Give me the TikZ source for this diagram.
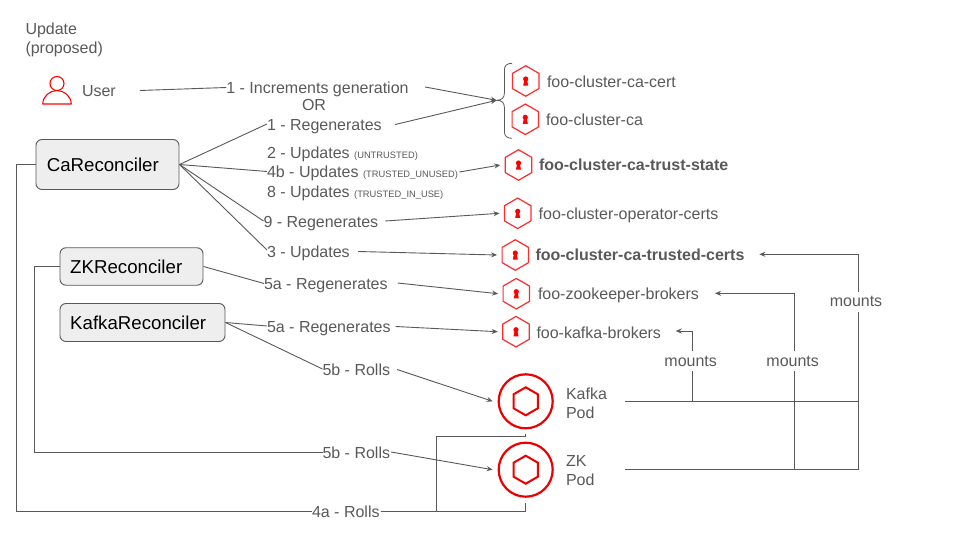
\documentclass[tikz,border=0pt]{standalone}
\usepackage{fontspec}
\setmainfont{Liberation Sans}
\usetikzlibrary{shapes.geometric,arrows.meta}
\definecolor{ink}{HTML}{595959}
\definecolor{boxfill}{HTML}{EEEEEE}
\definecolor{hexred}{HTML}{FF2A2A}
\definecolor{podred}{HTML}{EE0000}
\newcommand{\smalltag}[1]{{\fontsize{9.33pt}{11pt}\selectfont #1}}
\tikzset{
  lbl/.style={anchor=west,inner sep=0pt,outer sep=0pt,text=ink,font=\fontsize{16pt}{19pt}\selectfont,text height=11.5pt,text depth=3.5pt},
  two/.style={anchor=west,inner sep=0pt,outer sep=0pt,text=ink,font=\fontsize{16pt}{19pt}\selectfont,align=left},
  sname/.style={lbl},
  bname/.style={lbl,font=\fontsize{16pt}{19pt}\selectfont\bfseries},
  recon/.style={draw=ink,fill=boxfill,rounded corners=6pt,line width=0.9pt,anchor=west,inner ysep=0pt,inner xsep=10.8pt,align=left,text=black,font=\fontsize{18.67pt}{22pt}\selectfont,outer sep=0.5pt},
  secret/.style={draw=hexred,line width=1.2pt,regular polygon,regular polygon sides=6,shape border rotate=30,minimum size=30.5pt,inner sep=0pt,outer sep=5pt},
  pod/.style={draw=podred,line width=2.2pt,circle,minimum size=54pt,inner sep=0pt,outer sep=6pt},
  podhex/.style={draw=podred,line width=2pt,regular polygon,regular polygon sides=6,shape border rotate=30,minimum size=28pt,inner sep=0pt},
  conn/.style={draw=ink,line width=0.9pt},
  arr/.style={conn,-{Stealth[length=6pt,width=5pt]}},
  mnt/.style={lbl,anchor=center,minimum height=20pt,text height=,text depth=},
}
\begin{document}
\begin{tikzpicture}[x=1pt,y=-1pt]
\useasboundingbox (0,0) rectangle (960,540);
% titles
\node[two] (title) at (25.5,39.5) {Update\\(proposed)};
% user icon
\node[circle,draw=red,line width=1.1pt,minimum size=14pt,inner sep=0pt] (head) at (57,83.5) {};
\path[draw=red,line width=1.1pt,line join=round] (42.7,104) .. controls (43,96) and (50,90.5) .. (57,90.5) .. controls (64,90.5) and (71,96) .. (71.3,104) -- cycle;
\node[lbl] (user) at (82,92.5) {User};
% reconcilers
\node[recon,text width=121.4pt,minimum width=143pt,minimum height=50pt] (ca) at (35.5,164.5) {CaReconciler};
\node[recon,inner xsep=10.2pt,text width=122.6pt,minimum width=143pt,minimum height=37.5pt] (zk) at (59.5,266.5) {ZKReconciler};
\node[recon,inner xsep=10.2pt,text width=144.6pt,minimum width=165pt,minimum height=38pt] (kr) at (59.5,322.5) {KafkaReconciler};
% step labels
\node[lbl] (t1) at (226.3,89.5) {1 - Increments generation};
\node[lbl] (tor) at (302,107) {OR};
\node[lbl] (t1r) at (267,127) {1 - Regenerates};
\node[lbl] (t2) at (267,154.7) {2 - Updates \smalltag{(UNTRUSTED)}};
\node[lbl] (t4b) at (267,174) {4b - Updates \smalltag{(TRUSTED\_UNUSED)}};
\node[lbl] (t8) at (267,193) {8 - Updates \smalltag{(TRUSTED\_IN\_USE)}};
\node[lbl] (t9) at (263.5,223) {9 - Regenerates};
\node[lbl] (t3) at (267,253) {3 - Updates};
\node[lbl] (t5az) at (264,285) {5a - Regenerates};
\node[lbl] (t5ak) at (267,328) {5a - Regenerates};
\node[lbl] (t5bk) at (322.5,371) {5b - Rolls};
\node[lbl] (t5bz) at (322.5,454.5) {5b - Rolls};
\node[lbl] (t4a) at (312,513.3) {4a - Rolls};
% secrets
\foreach \n/\x/\y in {s1/525.7/81,s2/525.3/119.3,s3/518.5/165,s4/517.7/213.3,s5/515.3/255,s6/516.3/293.7,s7/516/331.7}{
  \node[secret] (\n) at (\x,\y) {};
  \fill[red] ([yshift=2pt]\n.center) circle (2.6pt);
  \fill[red] ([xshift=-1.4pt,yshift=1pt]\n.center) -- ([xshift=1.4pt,yshift=1pt]\n.center) -- ([xshift=2.5pt,yshift=-4.6pt]\n.center) -- ([xshift=-2.5pt,yshift=-4.6pt]\n.center) -- cycle;
}
\node[sname] (n1) at (547,83.5) {foo-cluster-ca-cert};
\node[sname] (n2) at (546,121.5) {foo-cluster-ca};
\node[bname] (n3) at (539,167) {foo-cluster-ca-trust-state};
\node[sname] (n4) at (538.7,215) {foo-cluster-operator-certs};
\node[bname] (n5) at (535.5,256.5) {foo-cluster-ca-trusted-certs};
\node[sname] (n6) at (538,295.5) {foo-zookeeper-brokers};
\node[sname] (n7) at (536.5,334) {foo-kafka-brokers};
% pods
\node[pod] (kpod) at (525.7,401.3) {};
\node[podhex] (khex) at (525.7,401.3) {};
\node[pod] (zpod) at (525.7,469.7) {};
\node[podhex] (zhex) at (525.7,469.7) {};
\node[two] (ktxt) at (566,403) {Kafka\\Pod};
\node[two] (ztxt) at (566,471) {ZK\\Pod};
% mounts
\node[mnt] (m1) at (690.7,361) {mounts};
\node[mnt] (m2) at (792.7,361) {mounts};
\node[mnt] (m3) at (856,301.5) {mounts};
% brace
\coordinate (btip) at (496.7,100.3);
\draw[conn,line width=0.8pt] (512,63.3) .. controls (507,63.3) and (504.4,65.5) .. (504.4,70) -- (504.4,93) .. controls (504.4,97.5) and (502,100.3) .. (btip) .. controls (502,100.3) and (504.4,103) .. (504.4,107.5) -- (504.4,131.5) .. controls (504.4,136) and (507,138.3) .. (512,138.3);
% connectors
\draw[conn] ([xshift=24pt,yshift=2pt]user.east) -- ([yshift=2pt]t1.west);
\draw[arr] ([xshift=16.5pt,yshift=2.5pt]t1.east) -- (btip);
\draw[arr] ([xshift=13.5pt,yshift=2.5pt]t1r.east) -- (btip);
\draw[conn] (ca.east) -- ([yshift=3pt]t1r.west);
\draw[conn] (ca.east) -- ([yshift=2.5pt]t4b.west);
\draw[conn] (ca.east) -- ([yshift=2pt]t9.west);
\draw[conn] (ca.east) -- ([yshift=3pt]t3.west);
\draw[arr] ([xshift=1.5pt,yshift=2pt]t4b.east) -- (s3.west);
\draw[arr] ([xshift=7pt,yshift=2pt]t9.east) -- (s4.west);
\draw[arr] ([xshift=8.5pt,yshift=1.5pt]t3.east) -- (s5.west);
\draw[conn] (zk.east) -- ([yshift=1.5pt]t5az.west);
\draw[arr] ([xshift=10pt,yshift=2pt]t5az.east) -- (s6.west);
\draw[conn] (kr.east) -- ([yshift=2pt]t5ak.west);
\draw[arr] ([xshift=5pt,yshift=1.5pt]t5ak.east) -- (s7.west);
\draw[conn] (kr.east) -- ([yshift=2pt]t5bk.west);
\draw[arr] ([xshift=7pt,yshift=1.5pt]t5bk.east) -- (kpod.west);
\draw[conn] (zk.west) -- (34.5,266.5) |- ([yshift=2.5pt]t5bz.west);
\draw[arr] ([xshift=1pt,yshift=2.5pt]t5bz.east) -- (zpod.west);
\draw[conn] (ca.west) -- (16.5,164.5) |- ([yshift=1.8pt]t4a.west);
\draw[conn] ([xshift=1pt,yshift=1.8pt]t4a.east) -| (zpod.south);
\draw[conn] (436.3,511.5) |- (525.7,436.8) -- (kpod.south);
% pod mount lines
\coordinate (kout) at (625,401.3);
\coordinate (zout) at (625,469.3);
\coordinate (jr) at (858.7,469.3);
\coordinate (a5) at (759.3,254.3);
\coordinate (a6) at (715,293.3);
\coordinate (a7) at (675.7,331);
\draw[conn] (kout) -- (858.7,401.3);
\draw[conn] (zout) -- (jr) -- ([xshift=2.7pt]m3.south);
\draw[arr] ([xshift=2.7pt]m3.north) -- (858.7,254.3) -- (a5);
\draw[conn] (794.3,469.3) -- ([xshift=1.6pt]m2.south);
\draw[arr] ([xshift=1.6pt]m2.north) -- (794.3,293.3) -- (a6);
\draw[conn] (692.3,401.3) -- ([xshift=1.6pt]m1.south);
\draw[arr] ([xshift=1.6pt]m1.north) -- (692.3,331) -- (a7);
\end{tikzpicture}
\end{document}
